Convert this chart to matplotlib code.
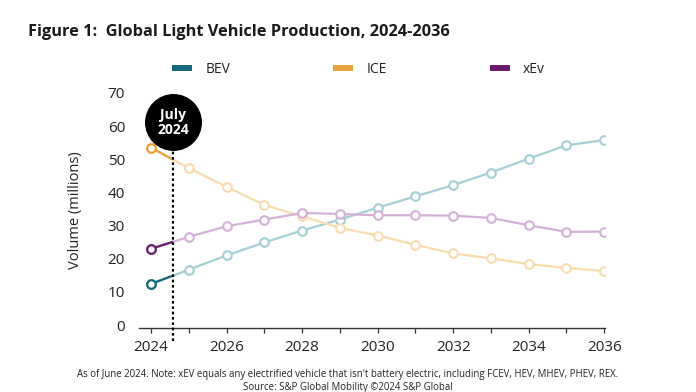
import matplotlib
matplotlib.use("Agg")
import matplotlib.pyplot as plt
from matplotlib.lines import Line2D
from matplotlib.patches import Rectangle

plt.rcParams['font.family'] = ['Open Sans', 'DejaVu Sans']

# data (millions of vehicles)
years = [2024, 2025, 2026, 2027, 2028, 2029, 2030, 2031, 2032, 2033, 2034, 2035, 2036]
bev = [12.4, 16.7, 21.0, 24.9, 28.5, 31.8, 35.4, 38.8, 42.2, 46.0, 50.2, 54.2, 55.8]
ice = [53.5, 47.3, 41.7, 36.2, 32.8, 29.3, 27.0, 24.2, 21.6, 20.1, 18.4, 17.2, 16.3]
xev = [23.0, 26.6, 29.8, 31.8, 33.8, 33.5, 33.1, 33.1, 33.0, 32.3, 30.1, 28.1, 28.2]
series_names = ["BEV", "ICE", "xEv"]
marker_x = 2024.58   # July 2024
marker_label = "July\n2024"
xtick_labels = [2024, 2026, 2028, 2030, 2032, 2034, 2036]
ytick_values = [0, 10, 20, 30, 40, 50, 60, 70]

dark = ["#16697a", "#e8a23a", "#6a1a6e"]
light = ["#a3d0d5", "#f8dcae", "#d4b0d8"]

fig = plt.figure(figsize=(6.96, 3.92), dpi=100)
ax = fig.add_axes([0.1997, 0.1633, 0.6695, 0.5995])

for vals, dc, lc in zip([bev, ice, xev], dark, light):
    # forecast part in light colour
    ax.plot(years, vals, color=lc, lw=1.6, marker="o", ms=6.2,
            mfc="white", mec=lc, mew=1.5, zorder=3)
    # history part (up to July 2024) in dark colour
    clip = Rectangle((2023.0, -10), marker_x - 2023.0, 100, transform=ax.transData)
    ln, = ax.plot(years, vals, color=dc, lw=1.6, zorder=4)
    ln.set_clip_path(clip)
    ax.plot(years[:1], vals[:1], ls="none", marker="o", ms=6.2,
            mfc="white", mec=dc, mew=1.6, zorder=5)

# July 2024 marker
ax.plot([marker_x, marker_x], [-4.8, 53], color="black", lw=1.6,
        ls=(0, (1.2, 1.2)), clip_on=False, zorder=6)
ax.scatter([marker_x], [61.1], s=1600, color="black", clip_on=False, zorder=7)
ax.text(marker_x, 61.1, marker_label, color="white", ha="center", va="center",
        fontsize=10, fontweight="bold", linespacing=1.05, zorder=8)

ax.set_xlim(2023.68, 2036.02)
ax.set_ylim(-0.9, 70)
ax.set_xticks(years)
ax.set_xticklabels([str(y) if y in xtick_labels else "" for y in years])
ax.set_yticks(ytick_values)
for s in ["top", "right", "left"]:
    ax.spines[s].set_visible(False)
ax.spines["bottom"].set_color("#333333")
ax.spines["bottom"].set_linewidth(1.0)
ax.tick_params(axis="x", length=3.5, width=0.9, color="#333333",
               labelsize=11, labelcolor="#222222", pad=5)
ax.tick_params(axis="y", length=0, labelsize=11, labelcolor="#222222", pad=10)
ax.set_ylabel("Volume (millions)", fontsize=10.5, color="#222222", labelpad=18)

handles = [Line2D([0], [0], color=c, lw=4.3, solid_capstyle="butt") for c in dark]
fig.legend(handles, series_names, loc="center", bbox_to_anchor=(0.515, 0.822),
           ncol=3, frameon=False, fontsize=10, handlelength=1.45,
           handletextpad=0.95, columnspacing=7.4, labelcolor="#222222")

fig.text(0.040, 0.918, "Figure 1:  Global Light Vehicle Production, 2024-2036",
         fontsize=11.8, fontweight="bold", color="#1a1a1a", ha="left", va="center")
fig.text(0.5, 0.044,
         "As of June 2024. Note: xEV equals any electrified vehicle that isn't battery electric, "
         "including FCEV, HEV, MHEV, PHEV, REX.",
         fontsize=6.95, color="#222222", ha="center", va="center")
fig.text(0.5, 0.012, "Source: S&P Global Mobility \u00a92024 S&P Global",
         fontsize=6.95, color="#222222", ha="center", va="center")

fig.savefig("out.png", dpi=100)
